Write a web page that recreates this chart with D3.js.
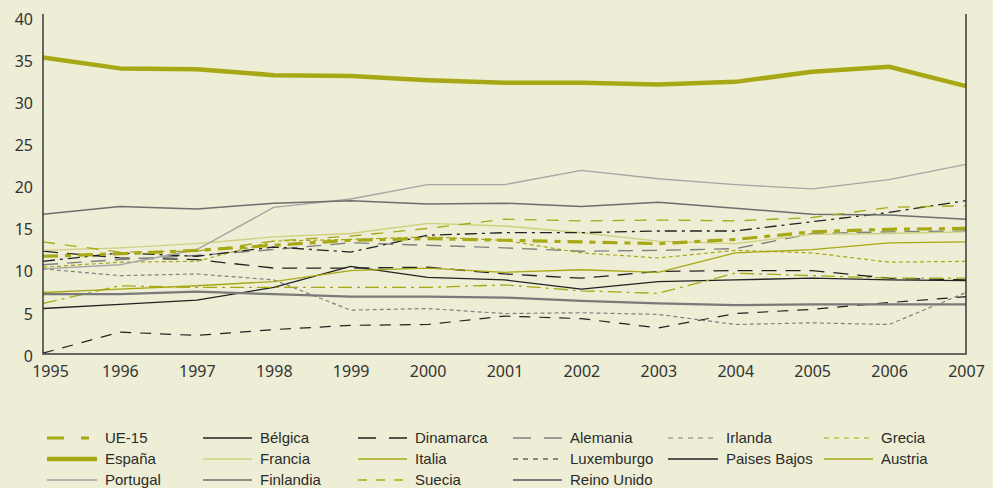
<!DOCTYPE html>
<html>
<head>
<meta charset="utf-8">
<script src="https://cdn.jsdelivr.net/npm/d3@7"></script>
<style>
  html, body { margin: 0; padding: 0; background: #edeed5; }
  svg { display: block; }
  .tick-label { font-family: "Noto Sans", sans-serif; font-size: 16px; fill: #333; }
  .legend-label { font-family: "Liberation Sans", Arial, sans-serif; font-size: 15px; fill: #2b2b2b; }
</style>
</head>
<body>
<svg id="chart" width="993" height="488"></svg>
<script>
// years and y ticks
const years = [1995, 1996, 1997, 1998, 1999, 2000, 2001, 2002, 2003, 2004, 2005, 2006, 2007];
const yTicks = [0, 5, 10, 15, 20, 25, 30, 35, 40];

// series values (% of temporary employees)
const ue15      = [11.6, 11.9, 12.3, 12.9, 13.5, 13.7, 13.5, 13.3, 13.1, 13.6, 14.5, 14.8, 14.9];
const espana    = [35.2, 33.9, 33.8, 33.1, 33.0, 32.5, 32.2, 32.2, 32.0, 32.3, 33.5, 34.1, 31.8];
const portugal  = [10.1, 10.6, 12.4, 17.4, 18.4, 20.1, 20.1, 21.8, 20.8, 20.1, 19.6, 20.7, 22.5];
const belgica   = [5.4, 5.9, 6.4, 7.9, 10.4, 9.1, 8.8, 7.7, 8.6, 8.8, 9.0, 8.8, 8.7];
const francia   = [12.3, 12.6, 13.1, 13.9, 14.3, 15.5, 15.2, 14.4, 13.4, 13.1, 14.2, 14.3, 14.5];
const finlandia = [16.6, 17.5, 17.2, 17.9, 18.2, 17.8, 17.9, 17.5, 18.0, 17.3, 16.6, 16.5, 16.0];
const dinamarca = [12.2, 11.4, 11.2, 10.2, 10.2, 10.3, 9.5, 9.0, 9.8, 9.9, 9.9, 9.0, 8.8];
const italia    = [7.3, 7.7, 8.1, 8.6, 9.9, 10.2, 9.7, 10.0, 9.7, 12.0, 12.4, 13.2, 13.3];
const suecia    = [13.3, 12.1, 12.2, 13.4, 14.0, 14.9, 16.0, 15.8, 15.9, 15.8, 16.2, 17.4, 17.6];
const alemania  = [10.6, 11.2, 11.7, 12.4, 13.2, 12.9, 12.6, 12.2, 12.3, 12.5, 14.3, 14.5, 14.6];
const luxemburgo = [0.1, 2.6, 2.2, 2.9, 3.4, 3.5, 4.5, 4.2, 3.1, 4.8, 5.3, 6.1, 6.8];
const reinoUnido = [7.1, 7.1, 7.4, 7.1, 6.8, 6.8, 6.7, 6.3, 6.0, 5.8, 5.9, 5.9, 5.9];
const irlanda   = [10.1, 9.3, 9.5, 8.8, 5.2, 5.4, 4.8, 4.9, 4.7, 3.5, 3.7, 3.5, 7.3];
const paisesBajos = [11.0, 12.0, 11.6, 12.7, 12.1, 14.1, 14.4, 14.4, 14.6, 14.6, 15.7, 16.8, 18.2];
const grecia    = [10.3, 10.9, 11.0, 13.4, 13.6, 13.9, 13.5, 12.0, 11.4, 12.3, 12.0, 10.9, 11.0];
const austria   = [6.0, 8.1, 7.9, 7.9, 7.9, 7.9, 8.2, 7.5, 7.2, 9.6, 9.3, 9.0, 9.0];

const olive = "#a8a816";
const lightOlive = "#cfcf80";

// legend order: row by row, six columns
const series = [
  { name: "UE-15", values: ue15, color: olive, width: 3.2, dash: "15,7,6,7", legendDash: "17,17,8,40" },
  { name: "Bélgica", values: belgica, color: "#222", width: 1.3, dash: null },
  { name: "Dinamarca", values: dinamarca, color: "#222", width: 1.3, dash: "15,9", legendDash: "18,13" },
  { name: "Alemania", values: alemania, color: "#808080", width: 1.4, dash: "15,9", legendDash: "18,13" },
  { name: "Irlanda", values: irlanda, color: "#808080", width: 1.2, dash: "4,3", legendDash: "5,5" },
  { name: "Grecia", values: grecia, color: olive, width: 1.2, dash: "4,3", legendDash: "5,5" },
  { name: "España", values: espana, color: olive, width: 4.5, dash: null },
  { name: "Francia", values: francia, color: lightOlive, width: 1.4, dash: null },
  { name: "Italia", values: italia, color: olive, width: 1.3, dash: null },
  { name: "Luxemburgo", values: luxemburgo, color: "#222", width: 1.2, dash: "11,9", legendDash: "5,5" },
  { name: "Paises Bajos", values: paisesBajos, color: "#222", width: 1.3, dash: "12,5,3,5", legendDash: null },
  { name: "Austria", values: austria, color: olive, width: 1.3, dash: "14,5,3,5", legendDash: null },
  { name: "Portugal", values: portugal, color: "#a6a6a6", width: 1.4, dash: null },
  { name: "Finlandia", values: finlandia, color: "#6e6e6e", width: 1.5, dash: null },
  { name: "Suecia", values: suecia, color: olive, width: 1.3, dash: "12,10", legendDash: "9,9" },
  { name: "Reino Unido", values: reinoUnido, color: "#7a7a7a", width: 2.2, dash: null }
];

const svg = d3.select("#chart");
const marginLeft = 43, marginRight = 966, plotTop = 17, plotBottom = 354;

const x = d3.scaleLinear().domain([1995, 2007]).range([marginLeft, marginRight]);
const y = d3.scaleLinear().domain([0, 40]).range([plotBottom, plotTop]);

// lines
const line = d3.line()
  .x((d, i) => x(years[i]))
  .y(d => y(d));

const drawOrder = series.filter(s => s.name !== "España" && s.name !== "UE-15")
  .concat(series.filter(s => s.name === "UE-15"), series.filter(s => s.name === "España"));

svg.append("g").selectAll("path")
  .data(drawOrder)
  .join("path")
  .attr("d", d => line(d.values))
  .attr("fill", "none")
  .attr("stroke", d => d.color)
  .attr("stroke-width", d => d.width)
  .attr("stroke-dasharray", d => d.dash)
  .attr("stroke-linejoin", "round");

// axes
const yAxis = svg.append("g")
  .attr("transform", `translate(${marginLeft},0)`)
  .call(d3.axisLeft(y).tickValues(yTicks).tickSize(0).tickPadding(10));
const xAxis = svg.append("g")
  .attr("transform", `translate(0,${plotBottom})`)
  .call(d3.axisBottom(x).tickValues(years).tickFormat(d3.format("d")).tickSize(0).tickPadding(12));

[yAxis, xAxis].forEach(g => {
  g.select(".domain").remove();
  g.selectAll("text").attr("class", "tick-label");
});
yAxis.selectAll("text").attr("dy", "0.45em");
// first year label sits a little right of the axis corner
xAxis.selectAll("text").filter(d => d === 1995).attr("x", 7);

svg.append("path")
  .attr("d", `M${marginLeft},${plotTop - 3}V${plotBottom}H${marginRight}V${plotTop - 3}`)
  .attr("fill", "none")
  .attr("stroke", "#3a3a3a")
  .attr("stroke-width", 1.5);

// legend
const colX = [47, 203, 358, 513, 668, 824];
const colW = [50, 49, 49, 49, 50, 49];
const rowY = [438, 459, 480];

const legend = svg.append("g").selectAll("g")
  .data(series)
  .join("g")
  .attr("transform", (d, i) => `translate(${colX[i % 6]},${rowY[Math.floor(i / 6)]})`);

legend.append("line")
  .attr("x1", 0)
  .attr("x2", (d, i) => colW[i % 6])
  .attr("stroke", d => d.color)
  .attr("stroke-width", d => d.width)
  .attr("stroke-dasharray", d => d.legendDash === undefined ? d.dash : d.legendDash);

legend.append("text")
  .attr("class", "legend-label")
  .attr("x", (d, i) => colW[i % 6] + 8)
  .attr("dy", "0.36em")
  .text(d => d.name);
</script>
</body>
</html>
